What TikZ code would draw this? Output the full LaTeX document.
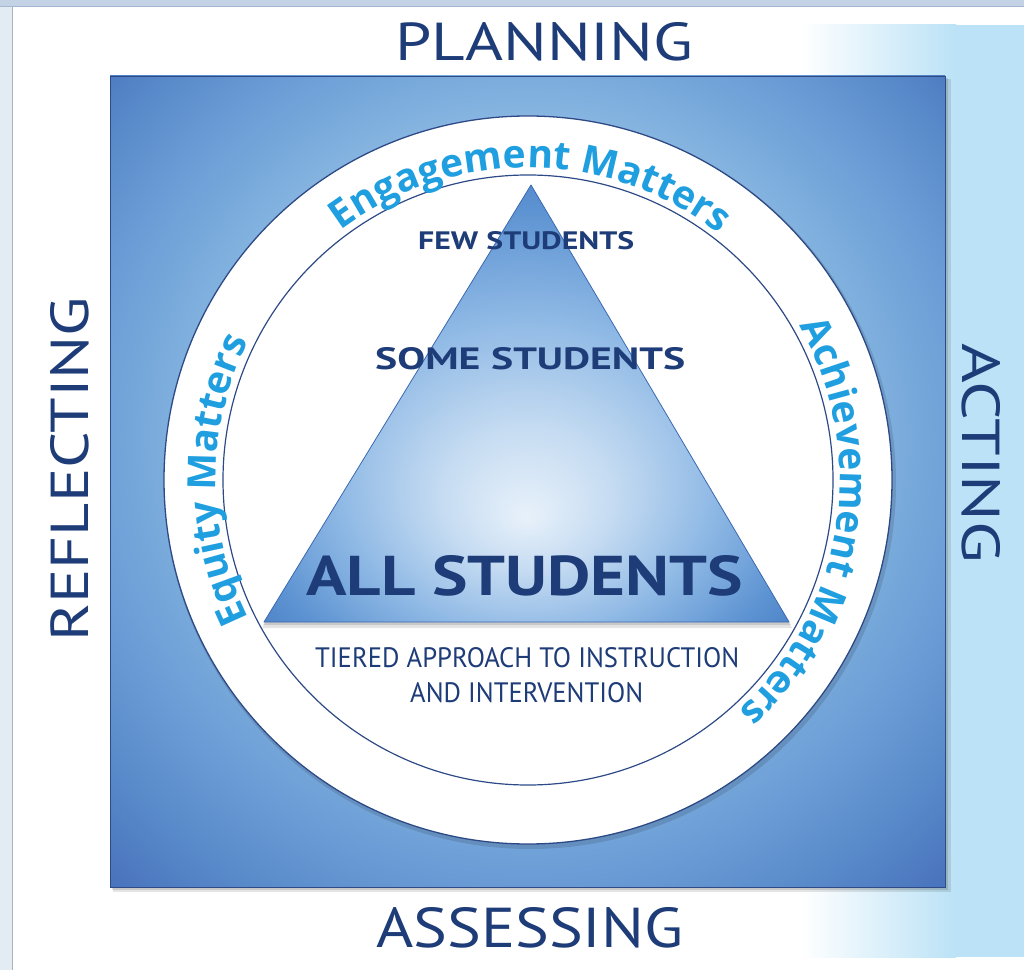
\documentclass[tikz,border=0pt]{standalone}
\usepackage{fontspec}
\setmainfont{PT Sans}
\newfontfamily\curvefont{Open Sans}
\usetikzlibrary{decorations.text,calc}
\definecolor{navy}{HTML}{1D3C78}
\definecolor{curveblue}{HTML}{1F9EE0}
\definecolor{ringline}{HTML}{2E4A86}
\definecolor{bandblue}{HTML}{C3D3E5}
\definecolor{bandline}{HTML}{A3B8D0}
\definecolor{leftstrip}{HTML}{E3EBF3}
\definecolor{leftline}{HTML}{A9B1BA}
\definecolor{actblue}{HTML}{BBE2F6}
\definecolor{sqA}{HTML}{C8DEF3}
\definecolor{sqB}{HTML}{A2C3E9}
\definecolor{sqC}{HTML}{7FB0DE}
\definecolor{sqD}{HTML}{6A9BD5}
\definecolor{sqE}{HTML}{5A8CCB}
\definecolor{sqF}{HTML}{4A74BD}
\definecolor{sqG}{HTML}{3A5EAA}
\definecolor{trA}{HTML}{E8F1FA}
\definecolor{trB}{HTML}{C6DCF2}
\definecolor{trC}{HTML}{8FB9E5}
\definecolor{trD}{HTML}{5D93D2}
\definecolor{trE}{HTML}{3F72BD}
\definecolor{trEdge}{HTML}{3A69B2}
\pgfdeclareradialshading{sqshade}{\pgfpoint{0bp}{5bp}}{%
  color(0bp)=(sqA); color(15bp)=(sqB); color(21bp)=(sqC); color(27bp)=(sqD);
  color(31bp)=(sqE); color(36bp)=(sqF); color(40bp)=(sqG); color(50bp)=(sqG)}
\pgfdeclareradialshading{trishade}{\pgfpoint{0bp}{-13bp}}{%
  color(0bp)=(trA); color(8bp)=(trB); color(18bp)=(trC); color(28bp)=(trD);
  color(38bp)=(trE); color(50bp)=(trE)}
\newcommand\ctfont{\curvefont\bfseries\fontsize{39pt}{39pt}\selectfont}
\newcommand\fitbox[3]{\resizebox{#1pt}{#2pt}{#3}}
\tikzset{
  label/.style={inner sep=0pt, text=navy},
  curvetext/.style={decorate, decoration={text along path, text align=center,
     text color=curveblue, text={|\ctfont|#1}}},
}
\begin{document}
\begin{tikzpicture}[x=1pt,y=1pt]
\useasboundingbox (0,0) rectangle (1024,970);
\fill[white] (0,0) rectangle (1024,970);
% frame
\fill[bandblue] (0,963) rectangle (1024,970);
\draw[bandline, line width=1] (0,963) -- (1024,963);
\fill[leftstrip] (0,0) rectangle (12,963);
\draw[leftline, line width=1] (12,0) -- (12,963);
% acting background
\shade[left color=white, right color=actblue] (800,13) rectangle (956,945);
\fill[actblue] (955.5,13) rectangle (1024,945);
% square shadow
\fill[black, opacity=0.10] (113,78) rectangle (951,891);
\fill[black, opacity=0.12] (112,80) rectangle (948,892);
% square
\shade[shading=sqshade] (110,83) rectangle (945,894);
\draw[sqG!80!black, line width=0.6] (110,83) rectangle (945,894);
% circle
\coordinate (C) at (528,490);
\fill[black, opacity=0.12] ([shift={(2,-3)}]C) circle (366);
\fill[white] (C) circle (364);
\draw[ringline, line width=1.3] (C) circle (364);
\draw[ringline, line width=1.2] (C) circle (305);
% triangle
\coordinate (T1) at (531,785);
\coordinate (T2) at (264,348);
\coordinate (T3) at (789,348);
\fill[black, opacity=0.10] ([shift={(2,-6)}]T1) -- ([shift={(-2,-6)}]T2) -- ([shift={(3,-6)}]T3) -- cycle;
\fill[black, opacity=0.12] ([shift={(1,-3)}]T1) -- ([shift={(-1,-3)}]T2) -- ([shift={(2,-3)}]T3) -- cycle;
\shade[shading=trishade] (T1) -- (T2) -- (T3) -- cycle;
\draw[trEdge, line width=0.8, line join=round] (T1) -- (T2) -- (T3) -- cycle;
% curved texts (centred on their arcs)
\path[curvetext={Engagement Matters}] ([shift={(140:312)}]C) arc[start angle=140, end angle=39, radius=312];
\path[curvetext={Equity Matters}] ([shift={(230:312)}]C) arc[start angle=230, end angle=130, radius=312];
\path[curvetext={Achievement Matters}] ([shift={(41:312)}]C) arc[start angle=41, end angle=-59, radius=312];
% labels
\node[label, anchor=base west] (planning) at (395,909) {\fitbox{298}{38}{PLANNING}};
\node[label, anchor=base west] (assessing) at (376,23) {\fitbox{307}{40}{ASSESSING}};
\node[label, anchor=base west, rotate=90] (reflecting) at (88,328) {\fitbox{345}{38}{REFLECTING}};
\node[label, anchor=base west, rotate=-90] (acting) at (962,627) {\fitbox{220}{38}{ACTING}};
\node[label, anchor=base west] (few) at (418,720) {\fitbox{216}{18}{\bfseries FEW STUDENTS}};
\node[label, anchor=base west] (some) at (375,600) {\fitbox{310}{22}{\bfseries SOME STUDENTS}};
\node[label, anchor=base west] (all) at (306,375) {\fitbox{437}{40}{\bfseries ALL STUDENTS}};
\node[label, anchor=base west] (tiered) at (315,303) {\fitbox{424}{20}{TIERED APPROACH TO INSTRUCTION}};
\node[label, anchor=base west] (andint) at (410,268) {\fitbox{233}{20}{AND INTERVENTION}};
\end{tikzpicture}
\end{document}
